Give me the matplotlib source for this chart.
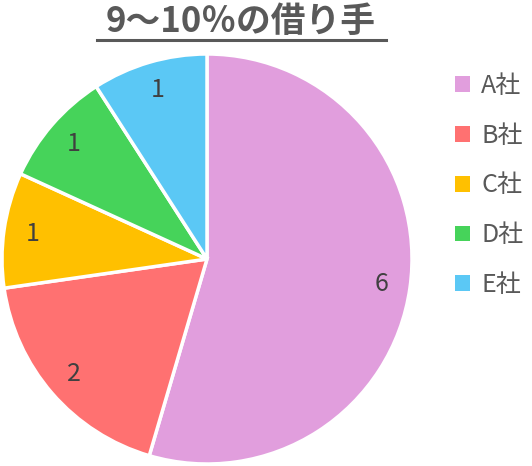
import matplotlib.pyplot as plt
from matplotlib.lines import Line2D

plt.rcParams['font.family'] = ['Noto Sans CJK JP', 'DejaVu Sans']

title = "9～10％の借り手"
companies = ["A社", "B社", "C社", "D社", "E社"]
counts = [6, 2, 1, 1, 1]
colors = ["#E19EDD", "#FF7171", "#FFC000", "#46D35A", "#5BC8F5"]
text_gray = "#595959"

fig = plt.figure(figsize=(5.32, 4.66), dpi=100)
W, H = 532, 466

# pie axes: square area around the circle
ax = fig.add_axes([2 / W, 2 / H, 410 / W, 410 / H])
wedges, texts = ax.pie(counts, colors=colors, startangle=90, counterclock=False,
                       labels=[str(c) for c in counts], labeldistance=0.86,
                       wedgeprops=dict(edgecolor="white", linewidth=2.5),
                       textprops=dict(fontsize=18, color="#404040"))
for t in texts:
    t.set_ha("center")
    t.set_va("center")
for w in wedges:
    w.set_clip_on(False)
ax.set_xlim(-1.0, 1.0)
ax.set_ylim(-1.0, 1.0)
ax.set_aspect("equal")

# title with underline
fig.text(241 / W, 1 - 21 / H, title, ha="center", va="center",
         fontsize=25, fontweight="bold", color=text_gray)
fig.add_artist(Line2D([97 / W, 386 / W], [1 - 40 / H, 1 - 40 / H],
                      color=text_gray, linewidth=2.2))

leg = fig.legend(wedges, companies, loc="upper left",
                 bbox_to_anchor=(455 / W, 1 - 73 / H), frameon=False,
                 borderpad=0, borderaxespad=0,
                 fontsize=18, handlelength=0.6, handleheight=0.6,
                 handletextpad=0.45, labelspacing=0.95)
for t in leg.get_texts():
    t.set_color(text_gray)
for h in leg.legend_handles:
    h.set_edgecolor("none")

fig.savefig("out.png", dpi=100)
